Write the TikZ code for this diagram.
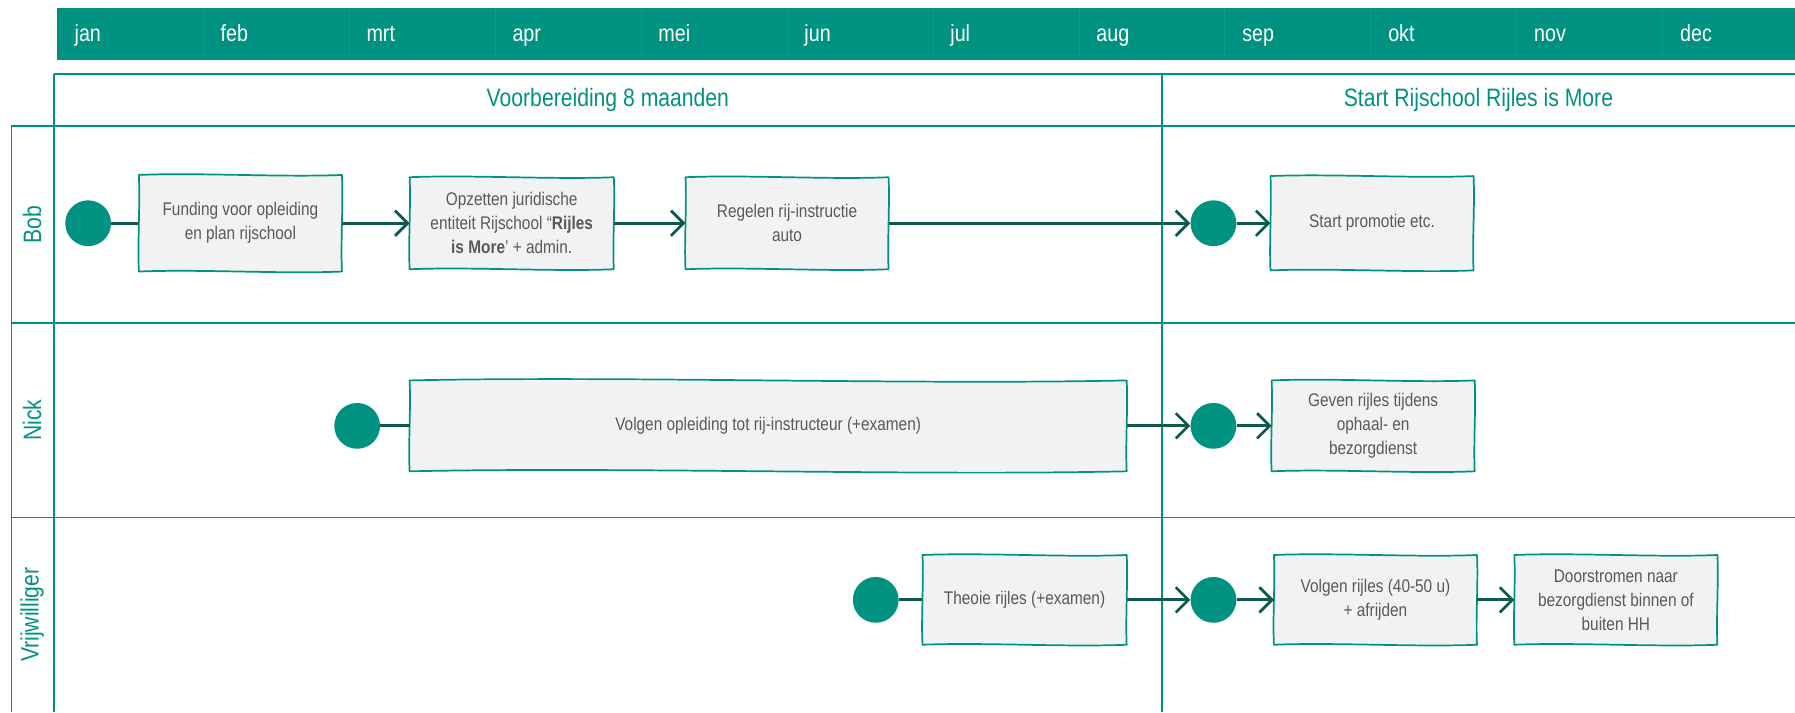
\documentclass[tikz,border=0pt]{standalone}
\usepackage{fontspec}
\setmainfont{Liberation Sans}[FakeStretch=0.84]
\usetikzlibrary{arrows.meta,calc}
\definecolor{teal1}{RGB}{0,146,128}
\definecolor{sepc}{RGB}{12,152,136}
\definecolor{darkc}{RGB}{14,88,80}
\definecolor{boxfill}{RGB}{242,242,242}
\definecolor{txtgray}{RGB}{89,89,89}
\newcommand\skbox[2][2.2]{%
 \draw[boxline] (#2.north west)
   .. controls ($(#2.north west)!0.3!(#2.north east)+(0,-#1)$) and ($(#2.north west)!0.7!(#2.north east)+(0,#1)$) .. (#2.north east)
   .. controls ($(#2.north east)!0.3!(#2.south east)+(1.2,0)$) and ($(#2.north east)!0.7!(#2.south east)+(-1.2,0)$) .. (#2.south east)
   .. controls ($(#2.south east)!0.3!(#2.south west)+(0,#1)$) and ($(#2.south east)!0.7!(#2.south west)+(0,-#1)$) .. (#2.south west)
   .. controls ($(#2.south west)!0.3!(#2.north west)+(-1.2,0)$) and ($(#2.south west)!0.7!(#2.north west)+(1.2,0)$) .. (#2.north west) -- cycle;}
\begin{document}
\begin{tikzpicture}[x=1pt,y=-1pt,
  frame/.style={draw=teal1, line width=1.6pt},
  month/.style={anchor=base west, text=white, font=\fontsize{20.5}{24}\selectfont, inner sep=0pt},
  phase/.style={text=teal1, font=\fontsize{22}{26}\selectfont},
  lanelbl/.style={text=teal1, font=\fontsize{22}{26}\selectfont, rotate=90},
  task/.style={fill=boxfill, text=txtgray, align=center, font=\fontsize{16}{21}\selectfont, inner sep=2pt},
  boxline/.style={draw=teal1, line width=1.5pt, line join=round},
  startc/.style={circle, fill=teal1, minimum size=40pt, inner sep=0pt},
  conn/.style={draw=darkc, line width=2.6pt},
  arr/.style={conn, -{Straight Barb[length=11pt, width=22pt, line width=2.4pt]}}
]
\useasboundingbox (0,0) rectangle (1568,622);
% header band
\fill[teal1] (50,7) rectangle (1568,52);
\foreach \k in {1,...,11} \draw[sepc, line width=0.8pt] ({50+127.5*\k},7) -- ({50+127.5*\k},52);
\foreach \m [count=\i from 0] in {jan,feb,mrt,apr,mei,jun,jul,aug,sep,okt,nov,dec}
  \node[month] (m\i) at ({50+127.5*\i+15},36.5) {\m};
% phase row and lanes
\draw[frame] (47,65) -- (1568,65);
\draw[frame] (47,65) -- (47,622);
\draw[frame] (1015,65) -- (1015,622);
\draw[frame] (10,110) -- (1568,110);
\draw[frame] (10,282) -- (1568,282);
\draw[frame] (10,452) -- (1568,452);
\draw[frame] (10,110) -- (10,622);
\node[phase] (p1) at (531,87) {Voorbereiding 8 maanden};
\node[phase] (p2) at (1291.5,87) {Start Rijschool Rijles is More};
\node[lanelbl] (l1) at (28,196) {Bob};
\node[lanelbl] (l2) at (28,367) {Nick};
\node[lanelbl] (l3) at (28,537) {Vrijwilliger};
% Bob
\node[startc] (c0) at (77,195) {};
\node[task, minimum width=177pt, minimum height=84pt] (b1) at (210,195) {Funding voor opleiding\\en plan rijschool};
\node[task, minimum width=178pt, minimum height=80pt] (b2) at (447,195) {Opzetten juridische\\entiteit Rijschool “\textbf{Rijles}\\\textbf{is More}’ + admin.};
\node[task, minimum width=177pt, minimum height=80pt] (b3) at (687.5,195) {Regelen rij-instructie\\auto};
\node[startc] (c1) at (1060,195) {};
\node[task, minimum width=177pt, minimum height=82pt] (b4) at (1198.5,195) {Start promotie etc.};
\foreach \b in {b1,b2,b3,b4} \skbox{\b};
\draw[conn] (c0) -- (b1);
\draw[arr] (b1) -- (b2);
\draw[arr] (b2) -- (b3);
\draw[arr] (b3) -- (c1);
\draw[arr] (c1) -- (b4);
% Nick
\node[startc] (c2) at (312,372) {};
\node[task, minimum width=626pt, minimum height=79pt] (n1) at (671,372) {Volgen opleiding tot rij-instructeur (+examen)};
\node[startc] (c3) at (1060,372) {};
\node[task, minimum width=177pt, minimum height=79pt] (n2) at (1199.5,372) {Geven rijles tijdens\\ophaal- en\\bezorgdienst};
\skbox[4]{n1}
\skbox{n2}
\draw[conn] (c2) -- (n1);
\draw[arr] (n1) -- (c3);
\draw[arr] (c3) -- (n2);
% Vrijwilliger
\node[startc] (c4) at (765,524) {};
\node[task, minimum width=178pt, minimum height=78pt] (v1) at (895,524) {Theoie rijles (+examen)};
\node[startc] (c5) at (1060,524) {};
\node[task, minimum width=177pt, minimum height=78pt] (v2) at (1201.5,524) {Volgen rijles (40-50 u)\\+ afrijden};
\node[task, minimum width=177pt, minimum height=78pt] (v3) at (1411.5,524) {Doorstromen naar\\bezorgdienst binnen of\\buiten HH};
\foreach \b in {v1,v2,v3} \skbox{\b};
\draw[conn] (c4) -- (v1);
\draw[arr] (v1) -- (c5);
\draw[arr] (c5) -- (v2);
\draw[arr] (v2) -- (v3);
\end{tikzpicture}
\end{document}
